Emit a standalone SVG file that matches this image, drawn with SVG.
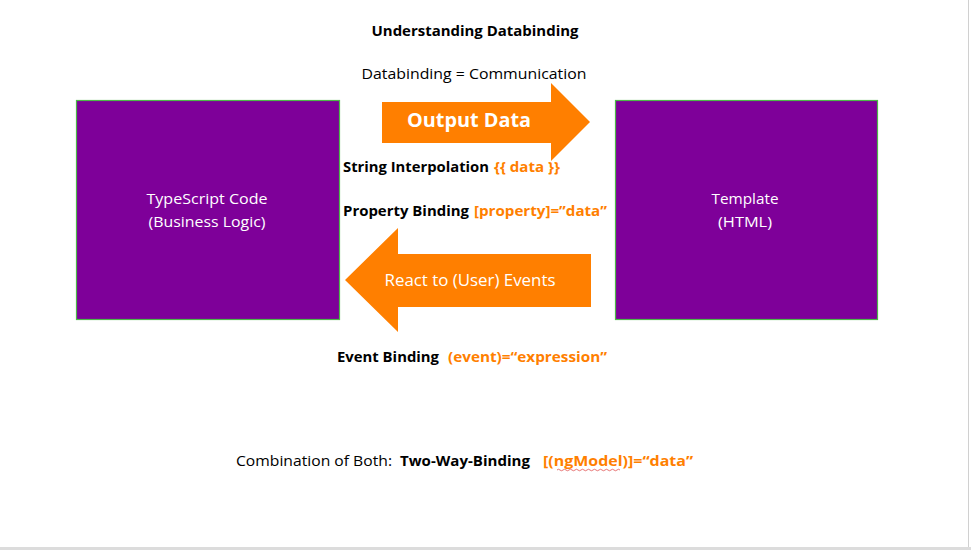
<svg xmlns="http://www.w3.org/2000/svg" width="971" height="550" viewBox="0 0 971 550">
<style>
text{font-family:"Open Sans","Liberation Sans",sans-serif;}
.b{font-weight:bold;}
.blk{fill:#000;}
.or{fill:#FF7F00;font-weight:bold;}
.wh{fill:#fff;}
.box{fill:#7E0099;stroke:#4CB848;stroke-width:1.2;}
.arrow{fill:#FF7F00;}
</style>
<rect x="0" y="0" width="971" height="550" fill="#fff"/>
<rect x="0" y="547" width="971" height="3" fill="#dcdcdc"/>
<rect x="968" y="0" width="1" height="547" fill="#d0d0d0"/>

<text x="475" y="36" text-anchor="middle" class="b blk" font-size="15" textLength="207" lengthAdjust="spacingAndGlyphs">Understanding Databinding</text>
<text x="474" y="79" text-anchor="middle" class="blk" font-size="15" textLength="225" lengthAdjust="spacingAndGlyphs">Databinding = Communication</text>

<g id="typescript">
<rect class="box" x="76.5" y="100.5" width="263" height="219"/>
<text x="207" y="204" text-anchor="middle" class="wh" font-size="15" textLength="121" lengthAdjust="spacingAndGlyphs">TypeScript Code</text>
<text x="207" y="227" text-anchor="middle" class="wh" font-size="15" textLength="117" lengthAdjust="spacingAndGlyphs">(Business Logic)</text>
</g>

<g id="template">
<rect class="box" x="615.5" y="100.5" width="262" height="219"/>
<text x="745" y="204" text-anchor="middle" class="wh" font-size="15" textLength="67" lengthAdjust="spacingAndGlyphs">Template</text>
<text x="745" y="227" text-anchor="middle" class="wh" font-size="15" textLength="54" lengthAdjust="spacingAndGlyphs">(HTML)</text>
</g>

<g id="connectors">
<g id="output-arrow">
<polygon class="arrow" points="382,102 551,102 551,83 590,122 551,161 551,143 382,143"/>
<text x="469" y="127" text-anchor="middle" class="wh b" font-size="20" textLength="124" lengthAdjust="spacingAndGlyphs">Output Data</text>
</g>
<g id="react-arrow">
<polygon class="arrow" points="591,254 398,254 398,228 345,280 398,332 398,307 591,307"/>
<text x="470" y="286" text-anchor="middle" class="wh" font-size="17" textLength="171" lengthAdjust="spacingAndGlyphs">React to (User) Events</text>
</g>
</g>

<text x="343" y="172" class="b blk" font-size="14" textLength="146" lengthAdjust="spacingAndGlyphs">String Interpolation</text>
<text x="494" y="172" class="or" font-size="14" textLength="66" lengthAdjust="spacingAndGlyphs">{{ data }}</text>
<text x="343" y="216" class="b blk" font-size="14" textLength="126" lengthAdjust="spacingAndGlyphs">Property Binding</text>
<text x="474" y="216" class="or" font-size="14" textLength="133" lengthAdjust="spacingAndGlyphs">[property]=”data”</text>
<text x="337" y="362" class="b blk" font-size="14" textLength="102" lengthAdjust="spacingAndGlyphs">Event Binding</text>
<text x="448" y="362" class="or" font-size="14" textLength="159" lengthAdjust="spacingAndGlyphs">(event)=“expression”</text>

<text x="236" y="466" class="blk" font-size="15" textLength="156" lengthAdjust="spacingAndGlyphs">Combination of Both:</text>
<text x="400" y="466" class="b blk" font-size="15" textLength="130" lengthAdjust="spacingAndGlyphs">Two-Way-Binding</text>
<text x="543" y="466" class="or" font-size="15" textLength="150" lengthAdjust="spacingAndGlyphs">[(ngModel)]=“data”</text>
<path d="M557,470 q1.5,-1.5 3,0 t3,0 t3,0 t3,0 t3,0 t3,0 t3,0 t3,0 t3,0 t3,0 t3,0 t3,0 t3,0 t3,0 t3,0 t3,0 t3,0 t3,0 t3,0 t3,0 t3,0" fill="none" stroke="#e05050" stroke-width="0.8"/>
</svg>
